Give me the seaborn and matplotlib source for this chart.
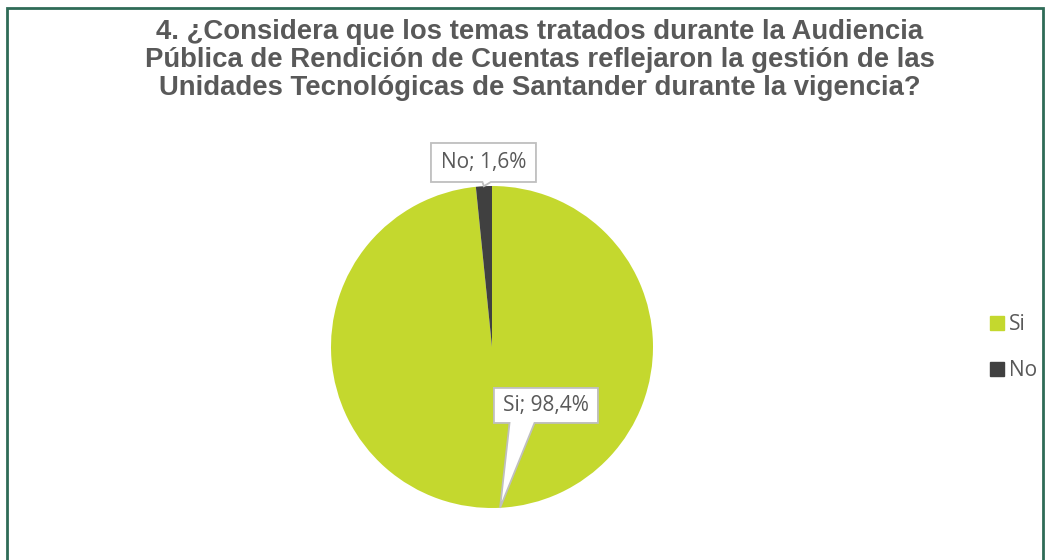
import matplotlib
matplotlib.use("Agg")
import matplotlib.pyplot as plt
import seaborn as sns
import numpy as np
from matplotlib.patches import Polygon, Rectangle
from matplotlib.lines import Line2D

categories = ["Si", "No"]
values = [98.4, 1.6]
label_texts = ["Si; 98,4%", "No; 1,6%"]
colors = ["#C4D82E", "#404040"]
title = ("4. ¿Considera que los temas tratados durante la Audiencia\n"
         "Pública de Rendición de Cuentas reflejaron la gestión de las\n"
         "Unidades Tecnológicas de Santander durante la vigencia?")

sns.set_theme(style="white")
plt.rcParams['font.family'] = ['Liberation Sans', 'DejaVu Sans']

W, H = 1050, 560
fig = plt.figure(figsize=(W / 100, H / 100), dpi=100)

# pie placement (pixels)
cx, cy, R = 492, 347, 161
half = 1.25 * R
ax = fig.add_axes([(cx - half) / W, (H - cy - half) / H, 2 * half / W, 2 * half / H])
ax.set_xlim(-1.25, 1.25)
ax.set_ylim(-1.25, 1.25)
ax.set_aspect("equal")
ax.axis("off")

wedges, _ = ax.pie(values, colors=colors, startangle=90, counterclock=False,
                   radius=1.0, wedgeprops=dict(linewidth=0))

# callout labels: box centre (data), box size (data), pointer base (fraction of width)
label_pos = [(0.335, -0.363), (-0.053, 1.146)]
box_size = [(104 / R, 35 / R), (105 / R, 39 / R)]
base_frac = [(0.15, 0.24), (0.49, 0.08)]
cum = np.cumsum([0] + values)
for i, (lab, (bx, by), (bw, bh)) in enumerate(zip(label_texts, label_pos, box_size)):
    mid = 90 - (cum[i] + values[i] / 2) / 100 * 360
    tx, ty = np.cos(np.radians(mid)), np.sin(np.radians(mid))
    l, r = bx - bw / 2, bx + bw / 2
    b, t = by - bh / 2, by + bh / 2
    b0 = l + base_frac[i][0] * bw
    b1 = b0 + base_frac[i][1] * bw
    verts = [(l, t), (r, t), (r, b), (b1, b), (tx, ty), (b0, b), (l, b)]
    ax.add_patch(Polygon(verts, closed=True, facecolor="white",
                         edgecolor="#BFBFBF", linewidth=1.3, zorder=5,
                         clip_on=False))
    ax.text(bx, by, lab, ha="center", va="center", fontsize=15,
            color="#595959", family=["Open Sans", "DejaVu Sans"], zorder=6,
            clip_on=False)

fig.text(540 / W, 1 - 19 / H, title, ha="center", va="top", fontsize=19.8,
         fontweight="bold", color="#595959", linespacing=1.1)

handles = [Line2D([0], [0], marker="s", linestyle="none", markersize=10,
                  markerfacecolor=c, markeredgecolor=c) for c in colors]
leg = fig.legend(handles, categories, loc="center left",
                 bbox_to_anchor=(974 / W, 1 - 348 / H), frameon=False,
                 handletextpad=0.0, labelspacing=1.2, handlelength=1.2,
                 borderpad=0, prop={"family": "Open Sans", "size": 15})
for txt in leg.get_texts():
    txt.set_color("#595959")

fig.patches.append(Rectangle((7 / W, -0.05), (1043 - 7) / W, (H - 8) / H + 0.05,
                             transform=fig.transFigure, fill=False,
                             edgecolor="#2F6B57", linewidth=2))

fig.savefig("out.png", dpi=100)
